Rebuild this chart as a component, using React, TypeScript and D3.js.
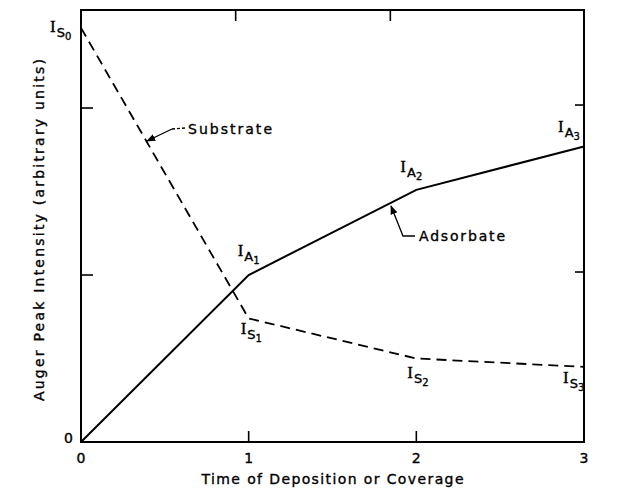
import React from "react";
import * as d3 from "d3";

const coverage = [0, 1, 2, 3];
const substrate = [2.48, 0.74, 0.5, 0.45];
const adsorbate = [0, 1.0, 1.51, 1.77];
const xTickLabels = ["0", "1", "2", "3"];
const yTicks = [0, 1, 2];
const substrateLabels = ["0", "1", "2", "3"];
const adsorbateLabels = ["", "1", "2", "3"];

const W = 620;
const H = 502;
const LEFT = 81;
const RIGHT = 584;
const TOP = 10;
const BOTTOM = 442;

const x = d3.scaleLinear().domain([0, 3]).range([LEFT, RIGHT]);
const y = d3.scaleLinear().domain([0, 2.587]).range([BOTTOM, TOP]);

const line = d3
  .line<number>()
  .x((_, i) => x(coverage[i]))
  .y((d) => y(d));

const SUB_OFF: [number, number][] = [
  [-31, 4],
  [-8, 16],
  [-9, 19],
  [-21, 16],
];
const ADS_OFF: [number, number][] = [
  [0, 0],
  [-11, -19],
  [-16, -18],
  [-26, -14],
];

const INK = { fill: "#000", stroke: "#000", strokeWidth: 0.35 };

function ILabel({ px, py, letter, digit }: { px: number; py: number; letter: string; digit: string }) {
  return (
    <text x={px} y={py} {...INK}>
      <tspan fontFamily="Liberation Serif, serif" fontSize={17}>I</tspan>
      <tspan fontFamily="DejaVu Sans, sans-serif" fontSize={13} dy={5} dx={1}>
        {letter}
      </tspan>
      <tspan fontFamily="DejaVu Sans, sans-serif" fontSize={10} dy={3}>
        {digit}
      </tspan>
    </text>
  );
}

export default function App() {
  const sans = "DejaVu Sans, sans-serif";
  return (
    <svg
      width={W}
      height={H}
      style={{ position: "absolute", left: 0, top: 0, background: "#fff" }}
    >
      <rect x={0} y={0} width={W} height={H} fill="#fff" />
      {/* frame */}
      <rect
        x={LEFT}
        y={TOP}
        width={RIGHT - LEFT}
        height={BOTTOM - TOP}
        fill="none"
        stroke="#000"
        strokeWidth={2}
      />
      {/* ticks */}
      {coverage.slice(1, 3).map((c) => (
        <g key={"xt" + c}>
          <line x1={x(c)} x2={x(c)} y1={BOTTOM} y2={BOTTOM - 11} stroke="#000" strokeWidth={1.6} />
          <line x1={x(c) - 13 * c} x2={x(c) - 13 * c} y1={TOP} y2={TOP + 11} stroke="#000" strokeWidth={1.6} />
        </g>
      ))}
      {yTicks.slice(1).map((t) => (
        <g key={"yt" + t}>
          <line x1={LEFT} x2={LEFT + 12} y1={y(t)} y2={y(t)} stroke="#000" strokeWidth={1.6} />
          <line x1={RIGHT} x2={RIGHT - 9} y1={y(t) - 3} y2={y(t) - 3} stroke="#000" strokeWidth={1.6} />
        </g>
      ))}
      {/* tick labels */}
      {xTickLabels.map((t, i) => (
        <text
          key={"xl" + i}
          x={x(coverage[i])}
          y={BOTTOM + 21}
          textAnchor="middle"
          fontFamily={sans}
          fontSize={14}
          {...INK}
        >
          {t}
        </text>
      ))}
      <text x={LEFT - 8} y={y(0) + 1} textAnchor="end" fontFamily={sans} fontSize={14} {...INK}>
        0
      </text>
      {/* axis titles */}
      <text
        x={(LEFT + RIGHT) / 2}
        y={484}
        textAnchor="middle"
        fontFamily={sans}
        fontSize={14}
        textLength={262}
        lengthAdjust="spacing"
        {...INK}
      >
        Time of Deposition or Coverage
      </text>
      <text
        transform={`translate(44, ${230}) rotate(-90)`}
        textAnchor="middle"
        fontFamily={sans}
        fontSize={14}
        textLength={342}
        lengthAdjust="spacing"
        {...INK}
      >
        Auger Peak Intensity (arbitrary units)
      </text>
      {/* series */}
      <path
        d={line(substrate) || ""}
        fill="none"
        stroke="#000"
        strokeWidth={1.8}
        strokeDasharray="10 6"
      />
      <path d={line(adsorbate) || ""} fill="none" stroke="#000" strokeWidth={2} />
      {/* point labels */}
      {substrate.map((v, i) => (
        <ILabel
          key={"sl" + i}
          px={x(coverage[i]) + SUB_OFF[i][0]}
          py={y(v) + SUB_OFF[i][1]}
          letter="S"
          digit={substrateLabels[i]}
        />
      ))}
      {adsorbate.map((v, i) =>
        adsorbateLabels[i] ? (
          <ILabel
            key={"al" + i}
            px={x(coverage[i]) + ADS_OFF[i][0]}
            py={y(v) + ADS_OFF[i][1]}
            letter="A"
            digit={adsorbateLabels[i]}
          />
        ) : null
      )}
      {/* annotations */}
      <defs>
        <marker id="arr" viewBox="0 0 10 10" refX="9" refY="5" markerWidth="7" markerHeight="7" orient="auto">
          <path d="M0,1 L10,5 L0,9 Z" fill="#000" />
        </marker>
      </defs>
      <path d="M172,129 L147,141" fill="none" stroke="#000" strokeWidth={1.3} markerEnd="url(#arr)" />
      <path d="M172,129 L185,128" fill="none" stroke="#000" strokeWidth={1.3} strokeDasharray="3 2" />
      <text x={188} y={134} fontFamily={sans} fontSize={14} textLength={84} lengthAdjust="spacing" {...INK}>
        Substrate
      </text>
      <path d="M415,236 L403,236 L391,206" fill="none" stroke="#000" strokeWidth={1.3} markerEnd="url(#arr)" />
      <text x={419} y={241} fontFamily={sans} fontSize={14} textLength={86} lengthAdjust="spacing" {...INK}>
        Adsorbate
      </text>
    </svg>
  );
}
